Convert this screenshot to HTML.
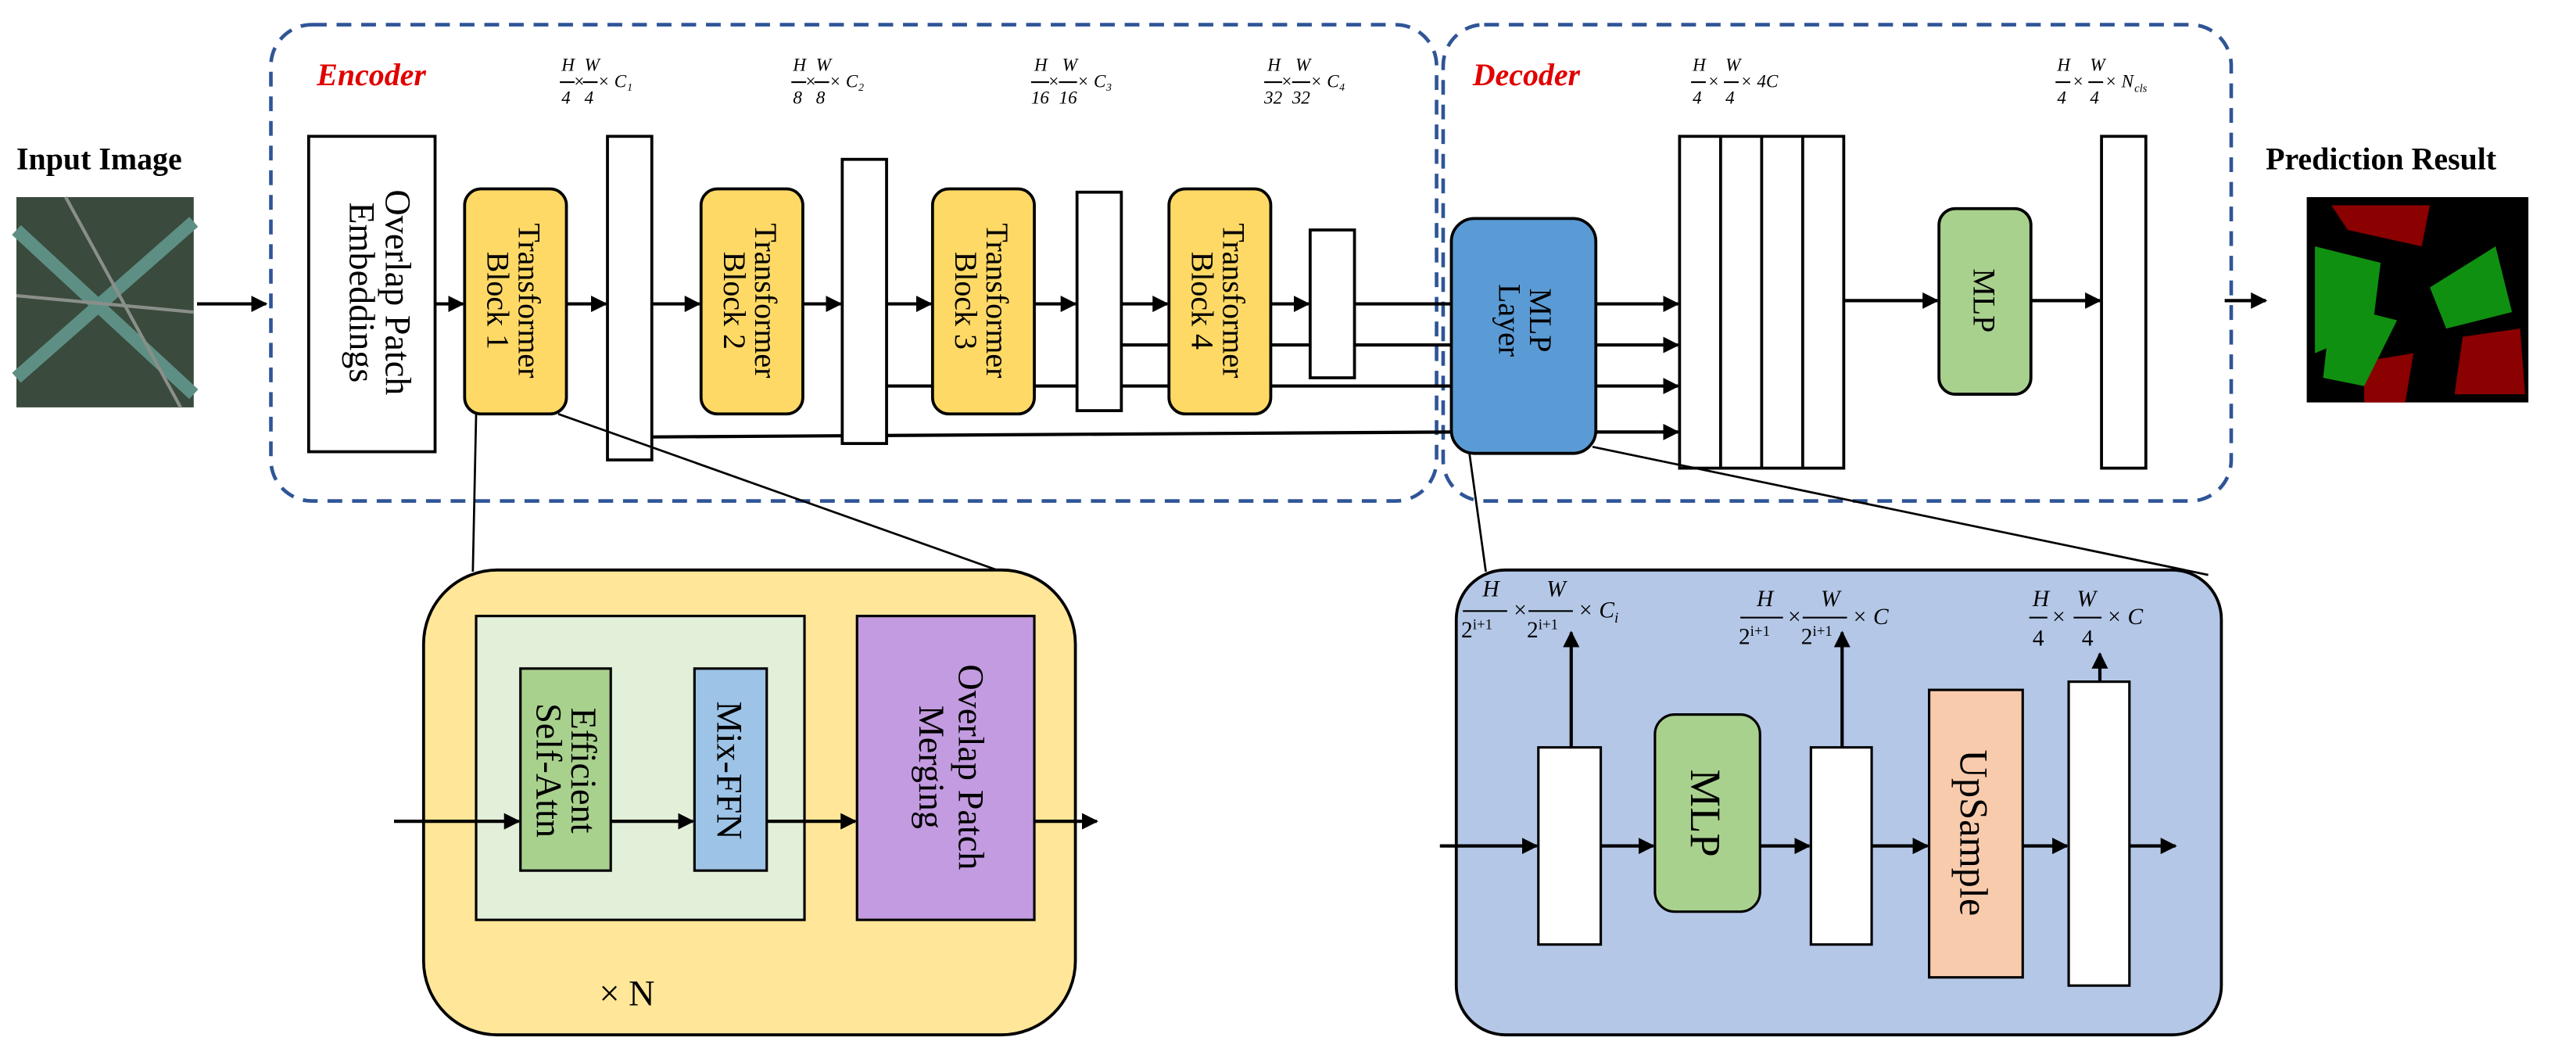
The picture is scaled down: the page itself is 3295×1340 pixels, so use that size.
<!DOCTYPE html>
<html><head><meta charset="utf-8"><style>
html,body{margin:0;padding:0;background:#fff}
svg{display:block}
text{font-family:"Liberation Serif",serif}
.r{font-size:22px}
.f{font-size:11px;font-style:italic}
</style></head><body>
<svg width="3295" height="1340" viewBox="0 0 1569 638" preserveAspectRatio="none" xmlns="http://www.w3.org/2000/svg">
<defs>
<marker id="a" viewBox="0 0 10 10" refX="9" refY="5" markerWidth="5" markerHeight="5" orient="auto"><path d="M0,0L10,5L0,10z" fill="#000"/></marker>
</defs>
<!-- dashed containers -->
<rect x="165" y="15" width="710" height="290" rx="25" fill="none" stroke="#2f5597" stroke-width="2.2" stroke-dasharray="9,6"/>
<rect x="879" y="15" width="480" height="290" rx="25" fill="none" stroke="#2f5597" stroke-width="2.2" stroke-dasharray="9,6"/>
<text x="193" y="52" font-size="19" font-weight="bold" font-style="italic" fill="#e00000">Encoder</text>
<text x="897" y="52" font-size="19" font-weight="bold" font-style="italic" fill="#e00000">Decoder</text>
<!-- formulas -->
<g class="f" font-size="11">
<text x="342" y="43">H</text><text x="356" y="43">W</text><line x1="341" y1="50" x2="350" y2="50" stroke="#000"/><line x1="355" y1="50" x2="364" y2="50" stroke="#000"/><text x="342" y="63">4</text><text x="356" y="63">4</text><text x="349" y="53">×</text><text x="364" y="53">× C₁</text>
<text x="483" y="43">H</text><text x="497" y="43">W</text><line x1="482" y1="50" x2="491" y2="50" stroke="#000"/><line x1="496" y1="50" x2="505" y2="50" stroke="#000"/><text x="483" y="63">8</text><text x="497" y="63">8</text><text x="490" y="53">×</text><text x="505" y="53">× C₂</text>
<text x="630" y="43">H</text><text x="647" y="43">W</text><line x1="628" y1="50" x2="639" y2="50" stroke="#000"/><line x1="645" y1="50" x2="656" y2="50" stroke="#000"/><text x="628" y="63">16</text><text x="645" y="63">16</text><text x="638" y="53">×</text><text x="656" y="53">× C₃</text>
<text x="772" y="43">H</text><text x="789" y="43">W</text><line x1="770" y1="50" x2="781" y2="50" stroke="#000"/><line x1="787" y1="50" x2="798" y2="50" stroke="#000"/><text x="770" y="63">32</text><text x="787" y="63">32</text><text x="780" y="53">×</text><text x="798" y="53">× C₄</text>
<text x="1031" y="43">H</text><text x="1051" y="43">W</text><line x1="1030" y1="50" x2="1039" y2="50" stroke="#000"/><line x1="1050" y1="50" x2="1059" y2="50" stroke="#000"/><text x="1031" y="63">4</text><text x="1051" y="63">4</text><text x="1040" y="53">×</text><text x="1060" y="53">× 4C</text>
<text x="1253" y="43">H</text><text x="1273" y="43">W</text><line x1="1252" y1="50" x2="1261" y2="50" stroke="#000"/><line x1="1272" y1="50" x2="1281" y2="50" stroke="#000"/><text x="1253" y="63">4</text><text x="1273" y="63">4</text><text x="1262" y="53">×</text><text x="1282" y="53">× N</text><text x="1300" y="56" font-size="7">cls</text>
</g>
<!-- input / output -->
<text x="10" y="103" font-size="19" font-weight="bold">Input Image</text>
<rect x="10" y="120" width="108" height="128" fill="#3a4a3c"/>
<path d="M10,140 L118,240 M10,230 L118,135" stroke="#5e8f84" stroke-width="8"/>
<path d="M40,120 L110,248 M10,180 L118,190" stroke="#8a8f8a" stroke-width="2"/>
<text x="1380" y="103" font-size="19" font-weight="bold">Prediction Result</text>
<rect x="1405" y="120" width="135" height="125" fill="#000"/>
<path d="M1420,125 L1480,125 L1475,150 L1430,140z M1500,205 L1535,200 L1538,240 L1495,240z M1440,220 L1470,215 L1465,245 L1440,245z" fill="#8b0000"/>
<path d="M1410,150 L1450,160 L1445,200 L1410,215z M1480,175 L1520,150 L1530,190 L1490,200z M1420,185 L1460,195 L1440,235 L1415,230z" fill="#109010"/>
<!-- main arrows -->
<g stroke="#000" stroke-width="2" fill="none">
<line x1="120" y1="185" x2="162" y2="185" marker-end="url(#a)"/>
<line x1="265" y1="185" x2="282" y2="185" marker-end="url(#a)"/>
<line x1="345" y1="185" x2="369" y2="185" marker-end="url(#a)"/>
<line x1="397" y1="185" x2="426" y2="185" marker-end="url(#a)"/>
<line x1="488" y1="185" x2="512" y2="185" marker-end="url(#a)"/>
<line x1="540" y1="185" x2="567" y2="185" marker-end="url(#a)"/>
<line x1="630" y1="185" x2="655" y2="185" marker-end="url(#a)"/>
<line x1="683" y1="185" x2="711" y2="185" marker-end="url(#a)"/>
<line x1="773" y1="185" x2="797" y2="185" marker-end="url(#a)"/>
<line x1="825" y1="185" x2="884" y2="185"/>
<line x1="683" y1="210" x2="884" y2="210"/>
<line x1="540" y1="235" x2="884" y2="235"/>
<line x1="397" y1="266" x2="884" y2="263"/>
<line x1="972" y1="185" x2="1022" y2="185" marker-end="url(#a)"/>
<line x1="972" y1="210" x2="1022" y2="210" marker-end="url(#a)"/>
<line x1="972" y1="235" x2="1022" y2="235" marker-end="url(#a)"/>
<line x1="972" y1="263" x2="1022" y2="263" marker-end="url(#a)"/>
<line x1="1123" y1="183" x2="1180" y2="183" marker-end="url(#a)"/>
<line x1="1237" y1="183" x2="1279" y2="183" marker-end="url(#a)"/>
<line x1="1355" y1="183" x2="1380" y2="183" marker-end="url(#a)"/>
</g>
<!-- encoder blocks -->
<g stroke="#000" stroke-width="1.8">
<rect x="188" y="83" width="77" height="192" fill="#fff"/>
<rect x="370" y="83" width="27" height="197" fill="#fff"/>
<rect x="513" y="97" width="27" height="173" fill="#fff"/>
<rect x="656" y="117" width="27" height="133" fill="#fff"/>
<rect x="798" y="140" width="27" height="90" fill="#fff"/>
<rect x="283" y="115" width="62" height="137" rx="10" fill="#ffd966"/>
<rect x="427" y="115" width="62" height="137" rx="10" fill="#ffd966"/>
<rect x="568" y="115" width="62" height="137" rx="10" fill="#ffd966"/>
<rect x="712" y="115" width="62" height="137" rx="10" fill="#ffd966"/>
<rect x="884" y="133" width="88" height="143" rx="14" fill="#5b9bd5"/>
<rect x="1023" y="83" width="100" height="202" fill="#fff"/>
<line x1="1048" y1="83" x2="1048" y2="285"/><line x1="1073" y1="83" x2="1073" y2="285"/><line x1="1098" y1="83" x2="1098" y2="285"/>
<rect x="1181" y="127" width="56" height="113" rx="10" fill="#a9d18e"/>
<rect x="1280" y="83" width="27" height="202" fill="#fff"/>
</g>
<g class="r">
<text transform="translate(235,178) rotate(90)" text-anchor="middle" y="0">Overlap Patch</text>
<text transform="translate(235,178) rotate(90)" text-anchor="middle" y="22">Embeddings</text>
<g font-size="19">
<text transform="translate(314,183) rotate(90)" text-anchor="middle" y="-2">Transformer</text><text transform="translate(314,183) rotate(90)" text-anchor="middle" y="17">Block 1</text>
<text transform="translate(458,183) rotate(90)" text-anchor="middle" y="-2">Transformer</text><text transform="translate(458,183) rotate(90)" text-anchor="middle" y="17">Block 2</text>
<text transform="translate(599,183) rotate(90)" text-anchor="middle" y="-2">Transformer</text><text transform="translate(599,183) rotate(90)" text-anchor="middle" y="17">Block 3</text>
<text transform="translate(743,183) rotate(90)" text-anchor="middle" y="-2">Transformer</text><text transform="translate(743,183) rotate(90)" text-anchor="middle" y="17">Block 4</text>
<text transform="translate(928,195) rotate(90)" text-anchor="middle" y="-4">MLP</text><text transform="translate(928,195) rotate(90)" text-anchor="middle" y="15">Layer</text>
<text transform="translate(1209,183) rotate(90)" text-anchor="middle" y="7">MLP</text>
</g></g>
<!-- zoom lines -->
<g stroke="#000" stroke-width="1.3">
<line x1="290" y1="252" x2="288" y2="348"/><line x1="340" y1="252" x2="610" y2="348"/>
<line x1="895" y1="276" x2="905" y2="348"/><line x1="970" y1="272" x2="1345" y2="350"/>
</g>
<!-- bottom left -->
<rect x="258" y="347" width="397" height="283" rx="45" fill="#ffe699" stroke="#000" stroke-width="1.8"/>
<rect x="290" y="375" width="200" height="185" fill="#e2efd9" stroke="#000" stroke-width="1.5"/>
<rect x="317" y="407" width="55" height="123" fill="#a9d18e" stroke="#000" stroke-width="1.5"/>
<rect x="423" y="407" width="44" height="123" fill="#9dc3e6" stroke="#000" stroke-width="1.5"/>
<rect x="522" y="375" width="108" height="185" fill="#c39be0" stroke="#000" stroke-width="1.5"/>
<g stroke="#000" stroke-width="2">
<line x1="240" y1="500" x2="316" y2="500" marker-end="url(#a)"/>
<line x1="372" y1="500" x2="422" y2="500" marker-end="url(#a)"/>
<line x1="467" y1="500" x2="521" y2="500" marker-end="url(#a)"/>
<line x1="630" y1="500" x2="668" y2="500" marker-end="url(#a)"/>
</g>
<g class="r">
<text transform="translate(345,469) rotate(90)" text-anchor="middle" y="-3">Efficient</text><text transform="translate(345,469) rotate(90)" text-anchor="middle" y="18">Self-Attn</text>
<text transform="translate(445,469) rotate(90)" text-anchor="middle" y="8">Mix-FFN</text>
<text transform="translate(576,467) rotate(90)" text-anchor="middle" y="-8">Overlap Patch</text><text transform="translate(576,467) rotate(90)" text-anchor="middle" y="16">Merging</text>
<text x="365" y="612">× N</text>
</g>
<!-- bottom right -->
<rect x="887" y="347" width="466" height="283" rx="30" fill="#b4c7e7" stroke="#000" stroke-width="1.8"/>
<g stroke="#000" stroke-width="1.5">
<rect x="937" y="455" width="38" height="120" fill="#fff"/>
<rect x="1008" y="435" width="64" height="120" rx="12" fill="#a9d18e"/>
<rect x="1103" y="455" width="37" height="120" fill="#fff"/>
<rect x="1175" y="420" width="57" height="175" fill="#f8cbad"/>
<rect x="1260" y="415" width="37" height="185" fill="#fff"/>
</g>
<g stroke="#000" stroke-width="2">
<line x1="877" y1="515" x2="936" y2="515" marker-end="url(#a)"/>
<line x1="975" y1="515" x2="1007" y2="515" marker-end="url(#a)"/>
<line x1="1072" y1="515" x2="1102" y2="515" marker-end="url(#a)"/>
<line x1="1140" y1="515" x2="1174" y2="515" marker-end="url(#a)"/>
<line x1="1232" y1="515" x2="1259" y2="515" marker-end="url(#a)"/>
<line x1="1297" y1="515" x2="1325" y2="515" marker-end="url(#a)"/>
<line x1="957" y1="455" x2="957" y2="385" marker-end="url(#a)"/>
<line x1="1122" y1="455" x2="1122" y2="385" marker-end="url(#a)"/>
<line x1="1279" y1="415" x2="1279" y2="398" marker-end="url(#a)"/>
</g>
<g class="r">
<text transform="translate(1040,495) rotate(90)" text-anchor="middle" y="10" font-size="26">MLP</text>
<text transform="translate(1203,507) rotate(90)" text-anchor="middle" y="9" font-size="24">UpSample</text>
</g>
<g font-size="14" font-style="italic">
<text x="903" y="363">H</text><line x1="891" y1="372" x2="918" y2="372" stroke="#000"/><text x="890" y="388" font-style="normal">2<tspan font-size="9" dy="-5">i+1</tspan></text>
<text x="922" y="376" font-style="normal">×</text>
<text x="942" y="363">W</text><line x1="931" y1="372" x2="958" y2="372" stroke="#000"/><text x="930" y="388" font-style="normal">2<tspan font-size="9" dy="-5">i+1</tspan></text>
<text x="961" y="376">× C<tspan font-size="9" dy="3">i</tspan></text>
<text x="1070" y="369">H</text><line x1="1060" y1="376" x2="1086" y2="376" stroke="#000"/><text x="1059" y="392" font-style="normal">2<tspan font-size="9" dy="-5">i+1</tspan></text>
<text x="1089" y="380" font-style="normal">×</text>
<text x="1109" y="369">W</text><line x1="1098" y1="376" x2="1125" y2="376" stroke="#000"/><text x="1097" y="392" font-style="normal">2<tspan font-size="9" dy="-5">i+1</tspan></text>
<text x="1128" y="380">× C</text>
<text x="1238" y="369">H</text><line x1="1236" y1="376" x2="1247" y2="376" stroke="#000"/><text x="1238" y="393" font-style="normal">4</text>
<text x="1250" y="380" font-style="normal">×</text>
<text x="1265" y="369">W</text><line x1="1263" y1="376" x2="1280" y2="376" stroke="#000"/><text x="1268" y="393" font-style="normal">4</text>
<text x="1283" y="380">× C</text>
</g>
</svg>
</body></html>
